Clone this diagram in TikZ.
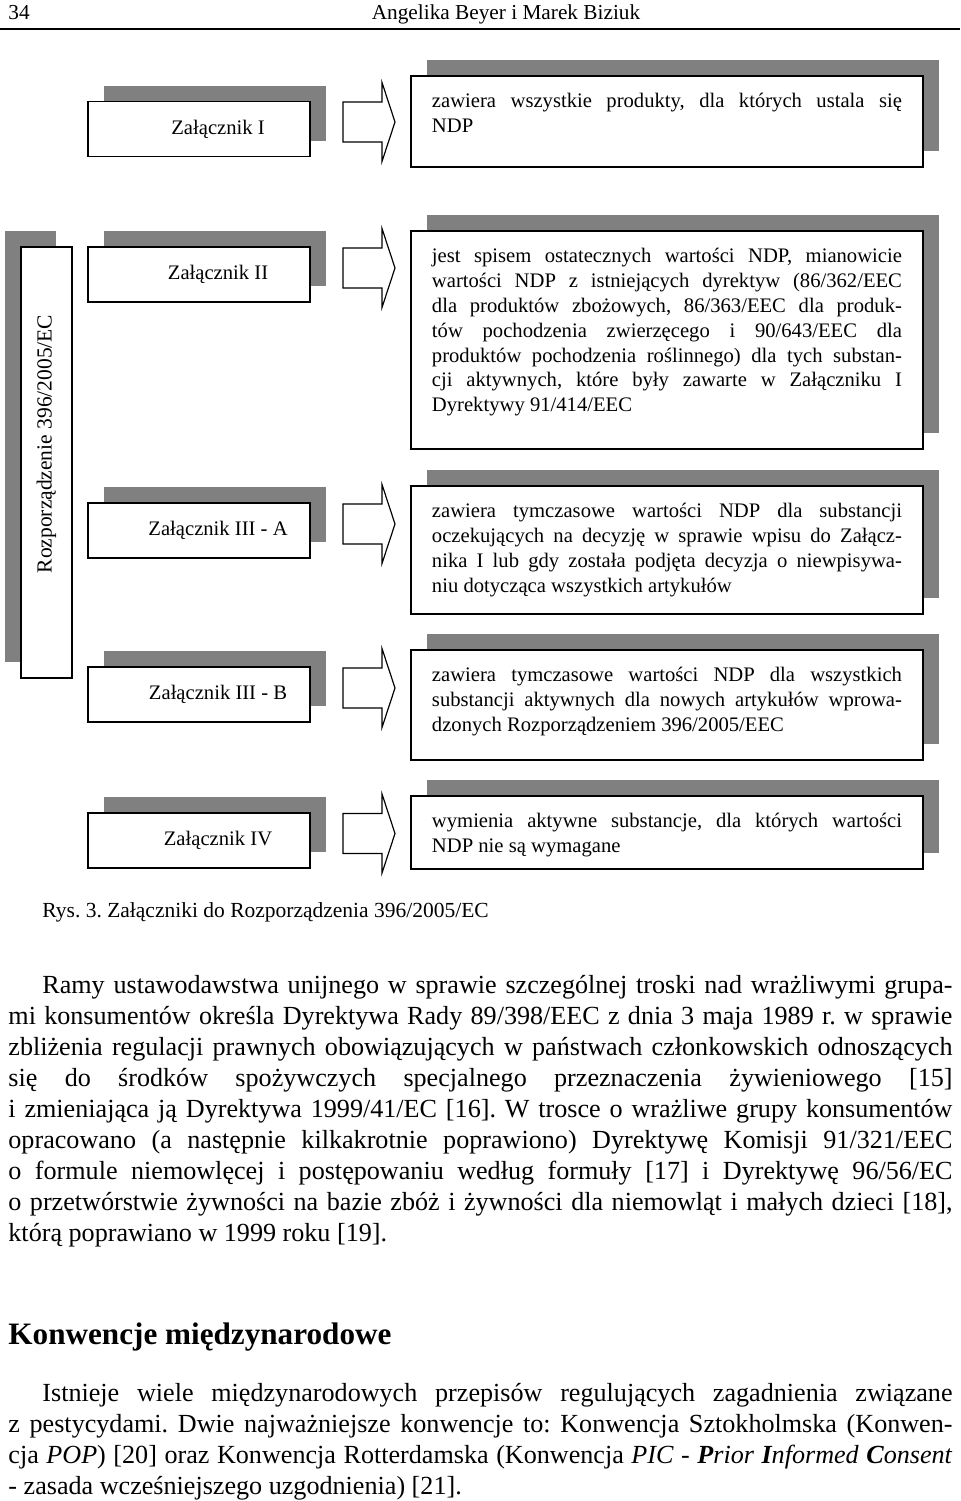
\documentclass[tikz,border=0pt]{standalone}
\usepackage{fontspec}
\setmainfont{Liberation Serif}
\usepackage{graphicx}
\usetikzlibrary{shadows}
\frenchspacing

\definecolor{szary}{RGB}{128,128,128}
\newcommand\wiersz[1]{\hbox to\hsize{\spaceskip=0pt\xspaceskip=0pt\relax#1}}
\newcommand\maly{\fontsize{9.6}{11.55}\selectfont}

\tikzset{
	cien/.style={drop shadow={shadow xshift=7.4pt, shadow yshift=7.4pt, fill=szary, opacity=1}},
	zal/.style={draw, fill=white, line width=0.9pt, minimum width=103.3pt, minimum height=25.6pt, inner sep=0pt, cien, font=\maly},
	opis/.style={draw, fill=white, line width=0.9pt, inner xsep=9.77pt, inner ysep=6.7pt, anchor=north west, cien, font=\maly},
	strzalka/.pic={\draw[line width=0.55pt] (0,-20) -- (39,-20) -- (39,-39.5) -- (52,0) -- (39,39.5) -- (39,20) -- (0,20) -- cycle;},
	tekst/.style={anchor=base west, inner sep=0pt, align=justify, font=\fontsize{12.15}{14.47}\selectfont}
}

\begin{document}
\begin{tikzpicture}[x=0.4651pt, y=-0.4651pt]
		\useasboundingbox (0,0) rectangle (960,1501);

		\node(strona)[anchor=base west, inner sep=0pt, font=\fontsize{9.9}{12}\selectfont] at (8,20){34};
		\node(autorzy)[anchor=base, inner sep=0pt, font=\fontsize{9.9}{12}\selectfont] at (506,20){Angelika Beyer i Marek Biziuk};
		\draw[line width=1pt] (0,29) -- (960,29);

		\node(rozp)[draw, fill=white, line width=0.9pt, minimum width=23.7pt, minimum height=200.5pt, inner sep=0pt,
			drop shadow={shadow xshift=-7.4pt, shadow yshift=7.4pt, fill=szary, opacity=1}] at (46.5,462.5)
			{\rotatebox{90}{\fontsize{10}{12}\selectfont\hspace*{17.2pt}Rozporządzenie 396/2005/EC}};

		\node(zal1)[zal] at (199,129){\hspace*{17.7pt}Załącznik I};
		\node(zal2)[zal] at (199,274.5){\hspace*{17.7pt}Załącznik II};
		\node(zal3a)[zal] at (199,530.5){\hspace*{17.7pt}Załącznik III - A};
		\node(zal3b)[zal] at (199,694.5){\hspace*{17.7pt}Załącznik III - B};
		\node(zal4)[zal] at (199,840.5){\hspace*{17.7pt}Załącznik IV};

		\pic at (343,122) {strzalka};
		\pic at (343,268) {strzalka};
		\pic at (343,524) {strzalka};
		\pic at (343,688) {strzalka};
		\pic at (343,833.5) {strzalka};

		\node(opis1)[opis] at (410,75){\parbox[c][28.93pt][t]{218.6pt}{%
			\wiersz{\strut zawiera wszystkie produkty, dla których ustala się}
			\hbox{NDP}}};
		\node(opis2)[opis] at (410,230){\parbox[c][88pt][t]{218.6pt}{%
			\wiersz{\strut jest spisem ostatecznych wartości NDP, mianowicie}
			\wiersz{wartości NDP z istniejących dyrektyw (86/362/EEC}
			\wiersz{dla produktów zbożowych, 86/363/EEC dla produk-}
			\wiersz{tów pochodzenia zwierzęcego i 90/643/EEC dla}
			\wiersz{produktów pochodzenia roślinnego) dla tych substan-}
			\wiersz{cji aktywnych, które były zawarte w Załączniku I}
			\hbox{Dyrektywy 91/414/EEC}}};
		\node(opis3a)[opis] at (410,485){\parbox[c][46.14pt][t]{218.6pt}{%
			\wiersz{\strut zawiera tymczasowe wartości NDP dla substancji}
			\wiersz{oczekujących na decyzję w sprawie wpisu do Załącz-}
			\wiersz{nika I lub gdy została podjęta decyzja o niewpisywa-}
			\hbox{niu dotycząca wszystkich artykułów}}};
		\node(opis3b)[opis] at (410,649){\parbox[c][37.77pt][t]{218.6pt}{%
			\wiersz{\strut zawiera tymczasowe wartości NDP dla wszystkich}
			\wiersz{substancji aktywnych dla nowych artykułów wprowa-}
			\hbox{dzonych Rozporządzeniem 396/2005/EEC}}};
		\node(opis4)[opis] at (410,795){\parbox[c][20.56pt][t]{218.6pt}{%
			\wiersz{\strut wymienia aktywne substancje, dla których wartości}
			\hbox{NDP nie są wymagane}}};

		\node(podpis)[anchor=base west, inner sep=0pt, font=\fontsize{10}{12}\selectfont] at (42,917){Rys. 3. Załączniki do Rozporządzenia 396/2005/EC};

		\node(akapit1)[tekst, text width=439.1pt] at (8,993){%
			\wiersz{\hspace*{15.8pt}Ramy ustawodawstwa unijnego w sprawie szczególnej troski nad wrażliwymi grupa-}
			\wiersz{mi konsumentów określa Dyrektywa Rady 89/398/EEC z dnia 3 maja 1989 r. w sprawie}
			\wiersz{zbliżenia regulacji prawnych obowiązujących w państwach członkowskich odnoszących}
			\wiersz{się do środków spożywczych specjalnego przeznaczenia żywieniowego [15]}
			\wiersz{i zmieniająca ją Dyrektywa 1999/41/EC [16]. W trosce o wrażliwe grupy konsumentów}
			\wiersz{opracowano (a następnie kilkakrotnie poprawiono) Dyrektywę Komisji 91/321/EEC}
			\wiersz{o formule niemowlęcej i postępowaniu według formuły [17] i Dyrektywę 96/56/EC}
			\wiersz{o przetwórstwie żywności na bazie zbóż i żywności dla niemowląt i małych dzieci [18],}
			\hbox{którą poprawiano w 1999 roku [19].}};

		\node(tytul)[anchor=base west, inner sep=0pt, font=\fontsize{14.5}{17}\selectfont\bfseries] at (8,1344){Konwencje międzynarodowe};

		\node(akapit2)[tekst, text width=439.1pt] at (8,1401){%
			\wiersz{\hspace*{15.8pt}Istnieje wiele międzynarodowych przepisów regulujących zagadnienia związane}
			\wiersz{z pestycydami. Dwie najważniejsze konwencje to: Konwencja Sztokholmska (Konwen-}
			\wiersz{cja \textit{POP}) [20] oraz Konwencja Rotterdamska (Konwencja \textit{PIC - \textbf{P}rior \textbf{I}nformed \textbf{C}onsent}}
			\hbox{- zasada wcześniejszego uzgodnienia) [21].}};
	\end{tikzpicture}
\end{document}
